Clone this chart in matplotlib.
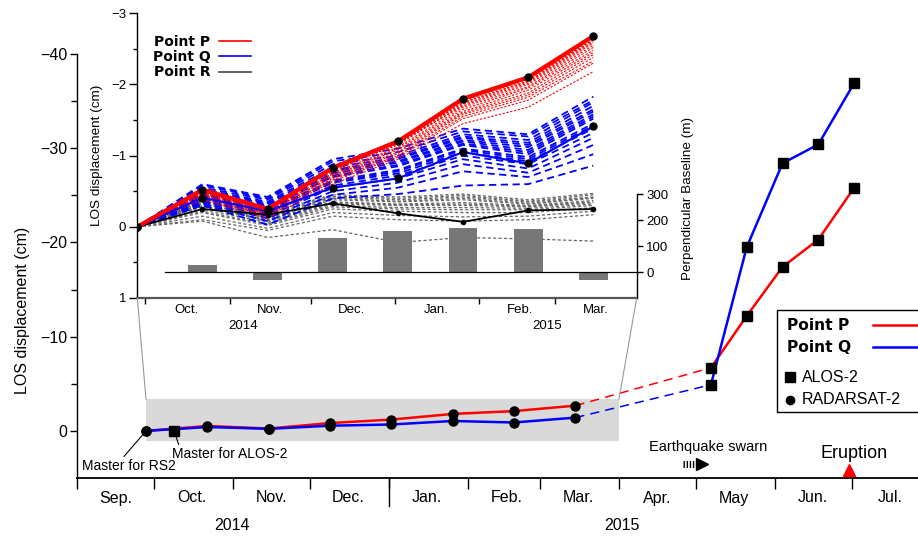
import numpy as np
import matplotlib
matplotlib.use("Agg")
import matplotlib.pyplot as plt
import matplotlib.dates as mdates
import matplotlib.transforms as mtransforms
from matplotlib.patches import Rectangle, ConnectionPatch
from matplotlib.lines import Line2D

plt.rcParams.update({
    "font.family": ["Liberation Sans", "DejaVu Sans"],
    "axes.linewidth": 1.0,
    "xtick.major.width": 1.0, "ytick.major.width": 1.0,
    "ytick.minor.width": 1.0,
})

W, H = 918, 537
RED, BLUE, GREY = "#ff0000", "#0000ff", "#666666"


def dn(s):
    return mdates.date2num(np.array(s, dtype="datetime64[D]"))


# ------------------------------- data ---------------------------------------
rs2_dates = dn(["2014-09-28", "2014-10-22", "2014-11-15", "2014-12-09",
                "2015-01-02", "2015-01-26", "2015-02-19", "2015-03-15"])
rs2_P = [0, -0.52, -0.25, -0.83, -1.20, -1.80, -2.10, -2.68]
rs2_Q = [0, -0.41, -0.22, -0.55, -0.68, -1.05, -0.89, -1.41]
rs2_R = [0, -0.25, -0.17, -0.33, -0.19, -0.07, -0.23, -0.25]

alos_dates = dn(["2014-10-09", "2015-05-07", "2015-05-21", "2015-06-04",
                 "2015-06-18", "2015-07-02"])
alos_P = [0, -6.7, -12.2, -17.4, -20.3, -25.8]
alos_Q = [0, -4.9, -19.5, -28.4, -30.4, -36.9]

# perpendicular baseline of each RS2 slave image (m)
baseline = [26, -31, 130, 159, 170, 168, -31]

# ensemble of solutions (cm), one row per run
ens_P = [
    [0, -0.55, -0.27, -0.85, -1.22, -1.78, -2.08, -2.65],
    [0, -0.52, -0.25, -0.84, -1.20, -1.77, -2.07, -2.63],
    [0, -0.50, -0.24, -0.82, -1.18, -1.75, -2.05, -2.62],
    [0, -0.49, -0.23, -0.81, -1.17, -1.74, -2.04, -2.60],
    [0, -0.48, -0.22, -0.80, -1.15, -1.72, -2.02, -2.58],
    [0, -0.53, -0.26, -0.78, -1.17, -1.70, -2.00, -2.55],
    [0, -0.46, -0.20, -0.76, -1.12, -1.68, -1.97, -2.52],
    [0, -0.50, -0.23, -0.74, -1.10, -1.65, -1.95, -2.48],
    [0, -0.44, -0.19, -0.72, -1.08, -1.62, -1.92, -2.45],
    [0, -0.47, -0.21, -0.70, -1.05, -1.60, -1.88, -2.42],
    [0, -0.42, -0.17, -0.68, -1.03, -1.58, -1.85, -2.38],
    [0, -0.45, -0.18, -0.66, -1.00, -1.55, -1.82, -2.33],
    [0, -0.40, -0.15, -0.64, -0.98, -1.52, -1.78, -2.30],
    [0, -0.38, -0.12, -0.60, -0.95, -1.45, -1.68, -2.18],
]
ens_Q = [
    [0, -0.60, -0.42, -0.95, -1.10, -1.38, -1.30, -1.83],
    [0, -0.58, -0.40, -0.92, -1.05, -1.34, -1.27, -1.78],
    [0, -0.55, -0.38, -0.88, -1.00, -1.30, -1.22, -1.75],
    [0, -0.53, -0.35, -0.84, -0.97, -1.27, -1.18, -1.70],
    [0, -0.52, -0.33, -0.80, -0.95, -1.25, -1.15, -1.65],
    [0, -0.50, -0.32, -0.78, -0.92, -1.22, -1.12, -1.62],
    [0, -0.48, -0.30, -0.75, -0.90, -1.20, -1.08, -1.58],
    [0, -0.46, -0.28, -0.72, -0.87, -1.17, -1.05, -1.55],
    [0, -0.45, -0.27, -0.70, -0.85, -1.15, -1.02, -1.52],
    [0, -0.43, -0.25, -0.65, -0.80, -1.10, -0.98, -1.45],
    [0, -0.42, -0.23, -0.63, -0.78, -1.08, -0.95, -1.42],
    [0, -0.40, -0.20, -0.62, -0.75, -1.05, -0.92, -1.38],
    [0, -0.38, -0.18, -0.58, -0.72, -1.00, -0.88, -1.32],
    [0, -0.36, -0.15, -0.55, -0.68, -0.95, -0.82, -1.25],
    [0, -0.34, -0.12, -0.50, -0.62, -0.88, -0.76, -1.15],
    [0, -0.32, -0.08, -0.45, -0.55, -0.78, -0.70, -1.02],
    [0, -0.30, -0.03, -0.40, -0.46, -0.58, -0.60, -0.86],
]
ens_R = [
    [0, -0.38, -0.20, -0.45, -0.42, -0.46, -0.38, -0.47],
    [0, -0.36, -0.18, -0.43, -0.40, -0.44, -0.36, -0.45],
    [0, -0.35, -0.15, -0.42, -0.38, -0.42, -0.35, -0.42],
    [0, -0.33, -0.13, -0.40, -0.36, -0.40, -0.33, -0.41],
    [0, -0.32, -0.12, -0.38, -0.35, -0.38, -0.32, -0.40],
    [0, -0.30, -0.10, -0.35, -0.32, -0.34, -0.30, -0.37],
    [0, -0.29, -0.09, -0.34, -0.31, -0.32, -0.29, -0.35],
    [0, -0.28, -0.08, -0.32, -0.30, -0.30, -0.28, -0.34],
    [0, -0.25, -0.06, -0.30, -0.27, -0.27, -0.26, -0.32],
    [0, -0.22, -0.04, -0.28, -0.25, -0.24, -0.24, -0.30],
    [0, -0.20, -0.02, -0.25, -0.22, -0.20, -0.20, -0.27],
    [0, -0.15, 0.02, -0.20, -0.16, -0.14, -0.15, -0.22],
    [0, -0.10, 0.05, -0.15, -0.10, -0.08, -0.10, -0.17],
    [0, -0.08, 0.15, 0.04, 0.22, 0.15, 0.17, 0.20],
]

month_starts = dn(np.arange(np.datetime64("2014-09"), np.datetime64("2015-08"),
                            dtype="datetime64[M]"))
month_labels = ["Sep.", "Oct.", "Nov.", "Dec.", "Jan.", "Feb.", "Mar.",
                "Apr.", "May", "Jun.", "Jul."]
inset_labels = ["Oct.", "Nov.", "Dec.", "Jan.", "Feb.", "Mar."]
year_start = dn("2015-01-01")

swarm_start = dn("2015-04-26")
eruption = dn("2015-06-30")
zoom_box_x = (dn("2014-09-28"), dn("2015-04-01"))
zoom_box_y = (-3.35, 1.1)


def fx(px):
    return px / W


def fy(py):
    return 1 - py / H


fig = plt.figure(figsize=(W / 100, H / 100), dpi=100)

# ------------------------------ main axes -----------------------------------
ax = fig.add_axes([fx(77), fy(478), fx(918) - fx(77), fy(54) - fy(478)])
ax.set_xlim(dn("2014-09-01"), dn("2015-07-27"))
ax.set_ylim(5, -40)
ax.spines["top"].set_visible(False)
ax.spines["right"].set_visible(False)
ax.spines["bottom"].set_linewidth(1.3)

ax.set_xticks(month_starts)
ax.set_xticks(month_starts + 15, labels=month_labels, minor=True)
ax.tick_params(axis="x", which="major", length=8, labelbottom=False)
ax.tick_params(axis="x", which="minor", length=0, pad=9, labelsize=11.5)
ax.set_yticks([-40, -30, -20, -10, 0])
ax.set_yticks([-35, -25, -15, -5], minor=True)
ax.tick_params(axis="y", which="major", length=5, pad=2, labelsize=11.5)
ax.tick_params(axis="y", which="minor", length=4)
ax.set_ylabel("LOS displacement (cm)", fontsize=11.5)
ax.yaxis.set_label_coords(-0.065, 0.396)
ax.yaxis.label.set_verticalalignment("center")

trx = mtransforms.blended_transform_factory(ax.transData, ax.transAxes)
ax.plot([year_start, year_start], [0, -0.065], transform=trx, clip_on=False,
        color="k", lw=1.0)
ax.text(0.184, -0.111, "2014", transform=ax.transAxes, ha="center",
        va="center", fontsize=11.5)
ax.text(0.648, -0.111, "2015", transform=ax.transAxes, ha="center",
        va="center", fontsize=11.5)

ax.add_patch(Rectangle((zoom_box_x[0], zoom_box_y[0]),
                       zoom_box_x[1] - zoom_box_x[0],
                       zoom_box_y[1] - zoom_box_y[0],
                       color="#d9d9d9", lw=0, zorder=1))

for vals_rs2, vals_alos, col in [(rs2_P, alos_P, RED), (rs2_Q, alos_Q, BLUE)]:
    ax.plot(rs2_dates, vals_rs2, color=col, lw=1.8, zorder=3)
    ax.plot([rs2_dates[-1], alos_dates[1]], [vals_rs2[-1], vals_alos[1]],
            color=col, lw=1.1, ls=(0, (6, 4)), zorder=3)
    ax.plot(alos_dates[1:], vals_alos[1:], color=col, lw=1.8, zorder=3)
    ax.plot(rs2_dates, vals_rs2, "o", color="k", ms=6.5, zorder=4)
    ax.plot(alos_dates[1:], vals_alos[1:], "s", color="k", ms=7.5, zorder=4)
ax.plot(alos_dates[:1], alos_P[:1], "s", color="k", ms=7.5, zorder=4)

ax.annotate("Master for RS2", xy=(rs2_dates[0], rs2_P[0]),
            xytext=(dn("2014-09-03"), 3.76), fontsize=10, va="center",
            arrowprops=dict(arrowstyle="-", lw=0.8, color="k",
                            relpos=(0.42, 1.0), shrinkA=0, shrinkB=2))
ax.annotate("Master for ALOS-2", xy=(alos_dates[0], alos_P[0]),
            xytext=(dn("2014-10-08"), 2.5), fontsize=10, va="center",
            arrowprops=dict(arrowstyle="-", lw=0.8, color="k",
                            relpos=(0.07, 1.0), shrinkA=0, shrinkB=5))

# earthquake swarm arrow and eruption marker
ax.plot([swarm_start, swarm_start + 6], [3.55, 3.55], color="k", lw=5,
        ls=(0, (0.2, 0.25)), solid_capstyle="butt", dash_capstyle="butt",
        zorder=3)
ax.plot(swarm_start + 7.5, 3.55, ">", color="k", ms=9, zorder=3)
ax.text(swarm_start + 10, 1.75, "Earthquake swarn", ha="center", va="center",
        fontsize=10.5)
ax.plot(eruption, 4.1, "^", color=RED, ms=9, clip_on=False, zorder=3)
ax.text(eruption + 2, 2.4, "Eruption", ha="center", va="center",
        fontsize=13)

# ------------------------------ inset axes ----------------------------------
axi = fig.add_axes([fx(137.3), fy(298), fx(636.7) - fx(137.3),
                    fy(13.3) - fy(298)])
axi.patch.set_alpha(0)
axi.set_xlim(dn("2014-09-28"), dn("2015-03-31"))
axi.set_ylim(1, -3)
axi.spines["top"].set_visible(False)
axi.spines["right"].set_visible(False)
axi.spines["bottom"].set_color("#555555")
axi.spines["bottom"].set_linewidth(1.6)

for row in ens_R:
    axi.plot(rs2_dates, row, color=GREY, lw=0.9, ls=(0, (2.5, 1.8)), zorder=2)
for row in ens_Q:
    axi.plot(rs2_dates, row, color=BLUE, lw=1.3, ls=(0, (4, 2.5)), zorder=2)
for row in ens_P:
    axi.plot(rs2_dates, row, color=RED, lw=0.8, ls=(0, (2, 1.5)), zorder=2)
axi.plot(rs2_dates, rs2_R, color="k", lw=1.3, zorder=3)
axi.plot(rs2_dates, rs2_Q, color=BLUE, lw=1.5, zorder=3)
axi.plot(rs2_dates, rs2_P, color=RED, lw=3.0, zorder=3)
axi.plot(rs2_dates, rs2_P, "o", color="k", ms=5, zorder=4)
axi.plot(rs2_dates, rs2_Q, "o", color="k", ms=5, zorder=4)
axi.plot(rs2_dates, rs2_R, "o", color="k", ms=3, zorder=4)

axi.set_xticks(month_starts[1:7])
axi.set_xticks(month_starts[1:7] + 15, labels=inset_labels, minor=True)
axi.tick_params(axis="x", which="major", length=4, labelbottom=False)
axi.tick_params(axis="x", which="minor", length=0, pad=4, labelsize=9.5)
axi.set_yticks([-3, -2, -1, 0, 1])
axi.set_yticks([-2.5, -1.5, -0.5, 0.5], minor=True)
axi.tick_params(axis="y", which="major", length=6, pad=2, labelsize=9.5)
axi.tick_params(axis="y", which="minor", length=3)
axi.set_ylabel("LOS displacement (cm)", fontsize=9.7)
axi.yaxis.set_label_coords(-0.081, 0.5)
axi.yaxis.label.set_verticalalignment("center")

tri = mtransforms.blended_transform_factory(axi.transData, axi.transAxes)
axi.text(dn("2014-11-06"), -0.098, "2014", transform=tri, ha="center",
         va="center", fontsize=9.5)
axi.text(dn("2015-02-26"), -0.098, "2015", transform=tri, ha="center",
         va="center", fontsize=9.5)

leg_handles = [Line2D([], [], color=RED, lw=1.2),
               Line2D([], [], color=BLUE, lw=1.2),
               Line2D([], [], color="#444444", lw=1.2)]
axi.legend(leg_handles, ["Point P", "Point Q", "Point R"], markerfirst=False,
           frameon=False, loc="upper left", bbox_to_anchor=(0.031, 0.925),
           prop={"family": "DejaVu Sans", "weight": "bold", "size": 10},
           handlelength=2.3, handletextpad=0.6, labelspacing=0.1,
           borderpad=0, borderaxespad=0)

# perpendicular baseline bars on a twin axis
axb = axi.twinx()
axb.set_ylim(-100, 1000)
axb.bar(rs2_dates[1:], baseline, width=10.6, color="#777777", zorder=2)
axb.axhline(0, xmin=0.0555, color="k", lw=0.9)
for s in ["top", "left", "bottom"]:
    axb.spines[s].set_visible(False)
axb.spines["right"].set_bounds(-100, 300)
axb.set_yticks([0, 100, 200, 300])
axb.tick_params(axis="y", length=4, pad=3, labelsize=9.5)
axb.set_ylabel("Perpendicular Baseline (m)", fontsize=9.7)
axb.yaxis.set_label_coords(1.103, 0.348)
axb.yaxis.label.set_verticalalignment("center")

# connector lines between zoom box and inset
for xa, xb in [(zoom_box_x[0], 0), (zoom_box_x[1], 1)]:
    con = ConnectionPatch(xyA=(xa, zoom_box_y[0]), coordsA=ax.transData,
                          xyB=(xb, 0), coordsB=axi.transAxes,
                          color="#999999", lw=0.8)
    fig.add_artist(con)

# ------------------------------ main legend ---------------------------------
fig.add_artist(Rectangle((fx(777), fy(412)), 0.3, fy(310) - fy(412),
                         transform=fig.transFigure, fill=False, ec="k",
                         lw=1.0))
for py, lab, col in [(325, "Point P", RED), (347, "Point Q", BLUE)]:
    fig.text(fx(787), fy(py), lab, fontsize=11.2, fontweight="bold",
             family="DejaVu Sans", va="center")
    fig.add_artist(Line2D([fx(873), fx(930)], [fy(py), fy(py)], color=col,
                          lw=1.8))
for py, lab, mk, ms in [(377, "ALOS-2", "s", 7.5), (400, "RADARSAT-2", "o", 6)]:
    fig.add_artist(Line2D([fx(790)], [fy(py)], marker=mk, ms=ms, color="k",
                          ls="none"))
    fig.text(fx(802), fy(py), lab, fontsize=11.5, va="center")

fig.savefig("out.png", dpi=100)
